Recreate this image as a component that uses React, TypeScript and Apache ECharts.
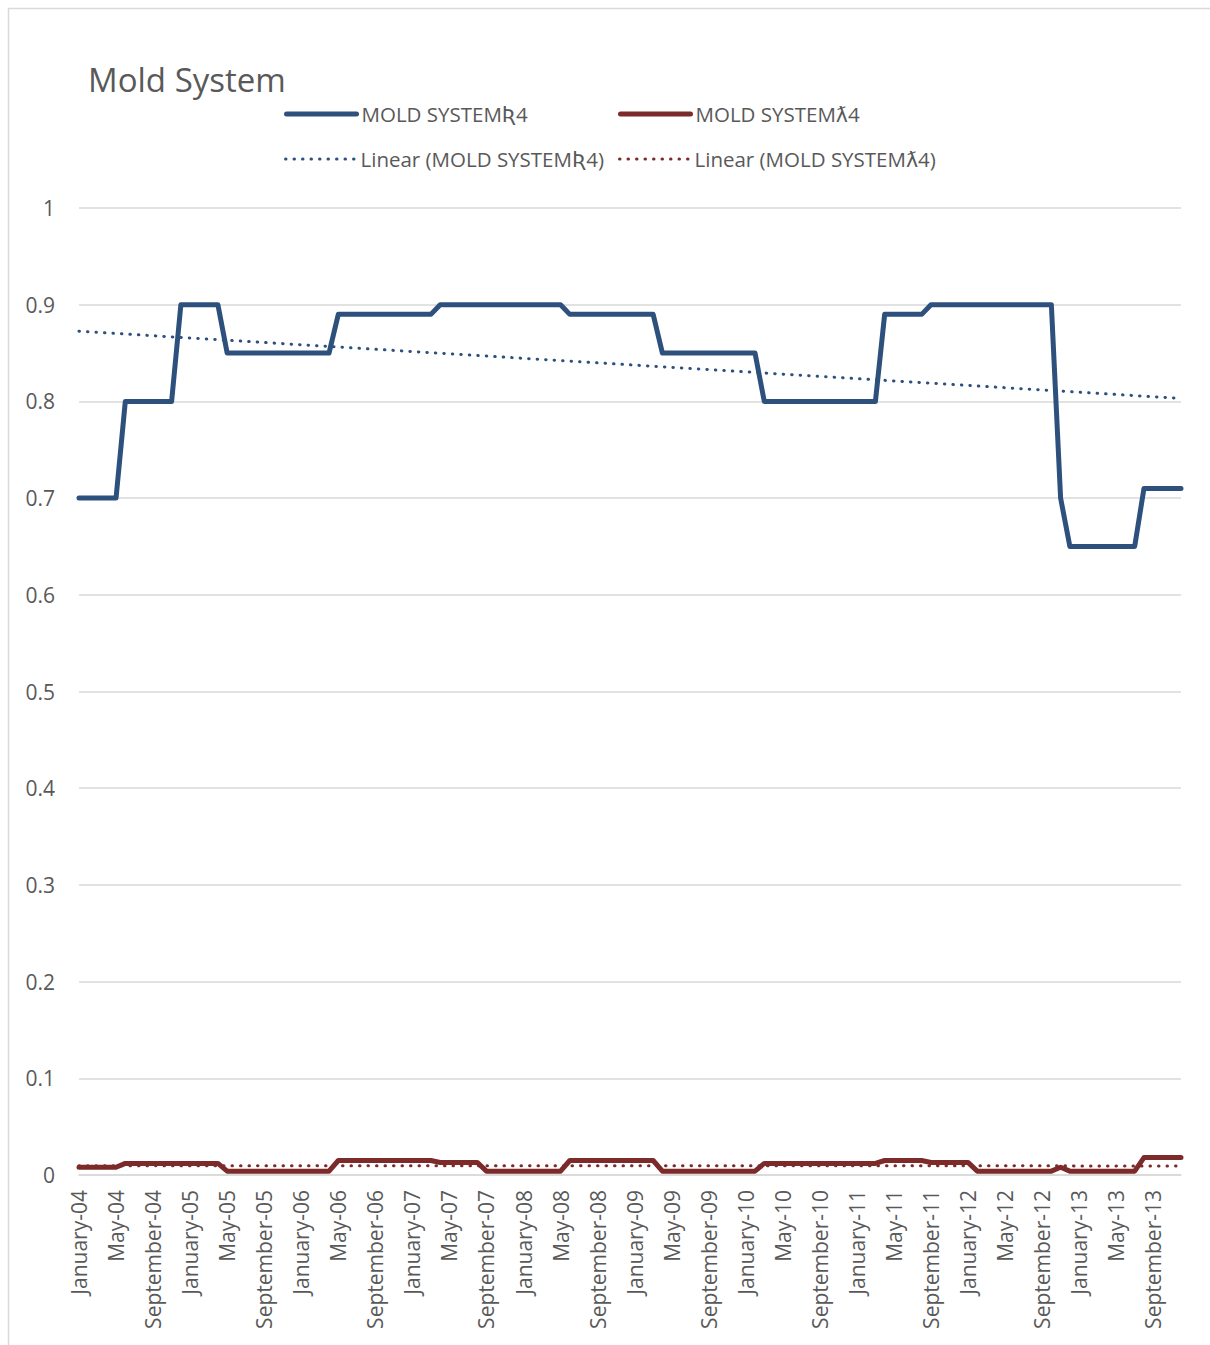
import React, { useEffect, useRef } from "react";
import * as echarts from "echarts";

// Monthly categories, January 2004 through December 2013
const MONTH_NAMES = [
  "January", "February", "March", "April", "May", "June",
  "July", "August", "September", "October", "November", "December",
];
const YEARS = ["04", "05", "06", "07", "08", "09", "10", "11", "12", "13"];
const categories: string[] = YEARS.flatMap((yy) => MONTH_NAMES.map((m) => `${m}-${yy}`));

// Reliability R(t) per month, written as runs of [value, months]
const reliabilityRuns: [number, number][] = [
  [0.7, 5], [0.8, 6], [0.9, 5], [0.85, 12], [0.89, 11], [0.9, 14],
  [0.89, 10], [0.85, 11], [0.8, 13], [0.89, 5], [0.9, 14], [0.7, 1],
  [0.65, 8], [0.71, 5],
];

// Failure rate λ per month, written as runs of [value, months]
const failureRateRuns: [number, number][] = [
  [0.008, 5], [0.012, 11], [0.004, 12], [0.015, 11], [0.013, 5], [0.004, 9],
  [0.015, 10], [0.004, 11], [0.012, 13], [0.015, 5], [0.013, 5], [0.004, 9],
  [0.008, 1], [0.004, 8], [0.018, 5],
];

const yTicks = [0, 0.1, 0.2, 0.3, 0.4, 0.5, 0.6, 0.7, 0.8, 0.9, 1];

const expandRuns = (runs: [number, number][]) =>
  runs.flatMap(([v, n]) => Array.from({ length: n }, () => v));

const reliability = expandRuns(reliabilityRuns);
const failureRate = expandRuns(failureRateRuns);

// Ordinary least-squares trend over the month index
function linearTrend(values: number[]): number[] {
  const n = values.length;
  let sx = 0, sy = 0, sxx = 0, sxy = 0;
  values.forEach((y, x) => {
    sx += x; sy += y; sxx += x * x; sxy += x * y;
  });
  const slope = (n * sxy - sx * sy) / (n * sxx - sx * sx);
  const intercept = (sy - slope * sx) / n;
  return values.map((_, x) => +(intercept + slope * x).toFixed(5));
}

const BLUE = "#2E507C";
const RED = "#7C2A2A";
const TEXT = "#595959";
const GRID = "#D9D9D9";
const FONT = "'Open Sans', 'DejaVu Sans', sans-serif";

const NAME_R = "MOLD SYSTEMƦ4";
const NAME_L = "MOLD SYSTEMƛ4";
const NAME_TR = "Linear (MOLD SYSTEMƦ4)";
const NAME_TL = "Linear (MOLD SYSTEMƛ4)";

function legendAt(name: string, left: number, top: number, dottedIcon: boolean) {
  return {
    data: [name],
    left,
    top,
    padding: 0,
    orient: "horizontal",
    itemWidth: 70,
    itemHeight: 24,
    selectedMode: false,
    itemStyle: { opacity: 0 },
    lineStyle: dottedIcon
      ? { width: 3, type: [0.5, 8], cap: "round" }
      : { width: 5, cap: "round" },
    textStyle: { color: TEXT, fontSize: 20.5, fontFamily: FONT, lineHeight: 24 },
  };
}

export default function App() {
  const ref = useRef<HTMLDivElement>(null);

  useEffect(() => {
    if (!ref.current) return;
    const chart = echarts.init(ref.current, undefined, { renderer: "svg" });
    const dotted = { type: [0.5, 8] as number[], cap: "round" as const, width: 3 };

    chart.setOption({
      animation: false,
      backgroundColor: "#fff",
      title: {
        text: "Mold System",
        left: 88,
        top: 63,
        padding: 0,
        textStyle: { color: TEXT, fontSize: 33, fontWeight: "normal", fontFamily: FONT },
      },
      legend: [
        legendAt(NAME_R, 284, 102, false),
        legendAt(NAME_L, 618, 102, false),
        legendAt(NAME_TR, 284, 147, true),
        legendAt(NAME_TL, 618, 147, true),
      ],
      graphic: [
        {
          type: "rect",
          left: 6,
          top: 6,
          shape: { width: 1230, height: 1360 },
          style: { fill: "none", stroke: GRID, lineWidth: 1.5 },
          silent: true,
        },
      ],
      grid: { left: 79, right: 29, top: 208, bottom: 170, containLabel: false },
      xAxis: {
        type: "category",
        data: categories,
        boundaryGap: false,
        axisLine: { lineStyle: { color: GRID, width: 1.5 } },
        axisTick: { show: false },
        axisLabel: {
          interval: 3,
          rotate: 90,
          margin: 15,
          color: TEXT,
          fontSize: 21,
          fontFamily: FONT,
        },
        splitLine: { show: false },
      },
      yAxis: {
        type: "value",
        min: yTicks[0],
        max: yTicks[yTicks.length - 1],
        interval: 0.1,
        axisLine: { show: false },
        axisTick: { show: false },
        axisLabel: { margin: 24, color: TEXT, fontSize: 21, fontFamily: FONT },
        splitLine: { lineStyle: { color: GRID, width: 1.5 } },
      },
      series: [
        {
          name: NAME_R,
          type: "line",
          data: reliability,
          symbol: "none",
          lineStyle: { color: BLUE, width: 5, cap: "round", join: "round" },
          itemStyle: { color: BLUE },
          z: 2,
        },
        {
          name: NAME_L,
          type: "line",
          data: failureRate,
          symbol: "none",
          lineStyle: { color: RED, width: 5, cap: "round", join: "round" },
          itemStyle: { color: RED },
          z: 2,
        },
        {
          name: NAME_TR,
          type: "line",
          data: linearTrend(reliability),
          symbol: "none",
          lineStyle: { color: BLUE, ...dotted },
          itemStyle: { color: BLUE },
          z: 3,
        },
        {
          name: NAME_TL,
          type: "line",
          data: linearTrend(failureRate),
          symbol: "none",
          lineStyle: { color: RED, ...dotted },
          itemStyle: { color: RED },
          z: 3,
        },
      ],
    });

    return () => chart.dispose();
  }, []);

  return (
    <div
      ref={ref}
      style={{ position: "absolute", left: 0, top: 0, width: 1210, height: 1345 }}
    />
  );
}
